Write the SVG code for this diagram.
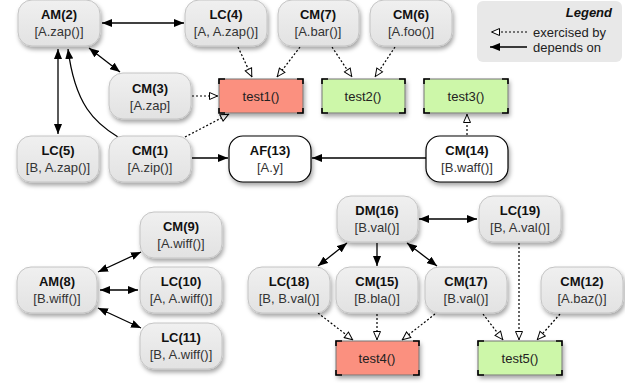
<svg xmlns="http://www.w3.org/2000/svg" width="625" height="383" viewBox="0 0 625 383">
<defs>
<filter id="sh" x="-20%" y="-20%" width="150%" height="160%">
<feDropShadow dx="1.5" dy="3" stdDeviation="2.2" flood-color="#000" flood-opacity="0.35"/>
</filter>
<linearGradient id="g" x1="0" y1="0" x2="0" y2="1">
<stop offset="0" stop-color="#f0f0f0"/>
<stop offset="1" stop-color="#e2e2e2"/>
</linearGradient>
<marker id="fa" viewBox="0 0 10 8" refX="10" refY="4" markerWidth="10" markerHeight="8" markerUnits="userSpaceOnUse" orient="auto-start-reverse">
<path d="M0,0 L10,4 L0,8 Z" fill="#000"/>
</marker>
<marker id="oa" viewBox="0 0 10 9" refX="9.5" refY="4.5" markerWidth="10" markerHeight="9" markerUnits="userSpaceOnUse" orient="auto">
<path d="M1,1 L9,4.5 L1,8 Z" fill="#fff" stroke="#000" stroke-width="1"/>
</marker>
</defs>
<style>
.n rect{fill:url(#g);stroke:#c4c4c4;stroke-width:1;filter:url(#sh)}
.w rect{fill:#fff;stroke:#000;stroke-width:1.2;filter:url(#sh)}
text{font-family:"Liberation Sans",Arial,sans-serif;font-size:13px;text-anchor:middle}
.b{font-weight:bold;fill:#111}
.s{fill:#333}
.t rect{stroke:#777;stroke-width:1;filter:url(#sh)}
.t path{fill:none;stroke:#000;stroke-width:1.6}
.red rect{fill:#fb907f}
.grn rect{fill:#cdf7a9}
.t text{fill:#222}
.dep{stroke:#000;stroke-width:1.3;fill:none;marker-end:url(#fa)}
.dbl{marker-start:url(#fa)}
.ex{stroke:#000;stroke-width:1.2;fill:none;stroke-dasharray:2,2;marker-end:url(#oa)}
</style>

<g id="legend">
<rect x="477" y="1" width="145" height="61" rx="6" fill="#e8e8e8"/>
<text x="612" y="17" style="font-weight:bold;font-style:italic;text-anchor:end;fill:#111">Legend</text>
<text x="533" y="37" style="text-anchor:start;fill:#222">exercised by</text>
<text x="533" y="52" style="text-anchor:start;fill:#222">depends on</text>
<line x1="527" y1="32" x2="491" y2="32" class="ex"/>
<line x1="527" y1="47" x2="490" y2="47" class="dep"/>
</g>

<g id="connectors">
<line class="dep dbl" x1="102" y1="23" x2="184" y2="23"/>
<line class="dep dbl" x1="89" y1="48" x2="120" y2="72"/>
<line class="dep dbl" x1="58" y1="49" x2="58" y2="134"/>
<path class="dep" d="M118,137 C95,123 75,105 68,49"/>
<line class="ex" x1="192" y1="96" x2="218" y2="96"/>
<line class="ex" x1="238" y1="47" x2="252" y2="77"/>
<line class="ex" x1="300" y1="47" x2="277" y2="77"/>
<line class="ex" x1="185" y1="137" x2="229" y2="114"/>
<line class="dep" x1="192" y1="158" x2="228" y2="158"/>
<line class="dep" x1="426" y1="158" x2="312" y2="158"/>
<line class="ex" x1="332" y1="47" x2="352" y2="77"/>
<line class="ex" x1="395" y1="47" x2="375" y2="77"/>
<line class="ex" x1="467" y1="135" x2="467" y2="114"/>
<line class="dep dbl" x1="98" y1="272" x2="141" y2="252"/>
<line class="dep dbl" x1="100" y1="290" x2="138" y2="290"/>
<line class="dep dbl" x1="98" y1="308" x2="141" y2="328"/>
<line class="dep dbl" x1="419" y1="219" x2="477" y2="219"/>
<line class="dep dbl" x1="347" y1="243" x2="318" y2="266"/>
<line class="dep" x1="377" y1="243" x2="377" y2="266"/>
<line class="dep dbl" x1="407" y1="243" x2="437" y2="266"/>
<line class="ex" x1="318" y1="313" x2="353" y2="340"/>
<line class="ex" x1="377" y1="314" x2="377" y2="340"/>
<line class="ex" x1="435" y1="314" x2="402" y2="340"/>
<line class="ex" x1="483" y1="314" x2="503" y2="340"/>
<line class="ex" x1="519" y1="243" x2="519" y2="340"/>
<line class="ex" x1="560" y1="314" x2="537" y2="340"/>
</g>

<g id="AM2" class="n"><rect x="18" y="0" width="82" height="46" rx="14"/><text class="b" x="59" y="19">AM(2)</text><text class="s" x="59" y="36">[A.zap()]</text></g>
<g id="LC4" class="n"><rect x="185" y="0" width="82" height="46" rx="14"/><text class="b" x="226" y="19">LC(4)</text><text class="s" x="226" y="36">[A, A.zap()]</text></g>
<g id="CM7" class="n"><rect x="278" y="0" width="81" height="46" rx="14"/><text class="b" x="318" y="19">CM(7)</text><text class="s" x="318" y="36">[A.bar()]</text></g>
<g id="CM6" class="n"><rect x="370" y="0" width="82" height="46" rx="14"/><text class="b" x="411" y="19">CM(6)</text><text class="s" x="411" y="36">[A.foo()]</text></g>
<g id="CM3" class="n"><rect x="109" y="73" width="82" height="46" rx="14"/><text class="b" x="150" y="93">CM(3)</text><text class="s" x="150" y="110">[A.zap]</text></g>
<g id="LC5" class="n"><rect x="17" y="136" width="82" height="46" rx="14"/><text class="b" x="58" y="155">LC(5)</text><text class="s" x="58" y="172">[B, A.zap()]</text></g>
<g id="CM1" class="n"><rect x="109" y="136" width="82" height="46" rx="14"/><text class="b" x="150" y="155">CM(1)</text><text class="s" x="150" y="172">[A.zip()]</text></g>
<g id="AF13" class="w"><rect x="229" y="136" width="82" height="46" rx="14"/><text class="b" x="270" y="155">AF(13)</text><text class="s" x="270" y="172">[A.y]</text></g>
<g id="CM14" class="w"><rect x="426" y="136" width="82" height="46" rx="14"/><text class="b" x="467" y="155">CM(14)</text><text class="s" x="467" y="172">[B.waff()]</text></g>

<g id="test1" class="t red"><rect x="219" y="79" width="84" height="34"/><path d="M219,84 V79 H225 M297,79 H303 V84 M303,108 V113 H297 M225,113 H219 V108"/><text x="261" y="101">test1()</text></g>
<g id="test2" class="t grn"><rect x="322" y="79" width="83" height="34"/><path d="M322,84 V79 H328 M399,79 H405 V84 M405,108 V113 H399 M328,113 H322 V108"/><text x="363" y="101">test2()</text></g>
<g id="test3" class="t grn"><rect x="424" y="79" width="84" height="34"/><path d="M424,84 V79 H430 M502,79 H508 V84 M508,108 V113 H502 M430,113 H424 V108"/><text x="466" y="101">test3()</text></g>

<g id="CM9" class="n"><rect x="140" y="212" width="82" height="46" rx="14"/><text class="b" x="181" y="231">CM(9)</text><text class="s" x="181" y="248">[A.wiff()]</text></g>
<g id="AM8" class="n"><rect x="17" y="267" width="80" height="46" rx="14"/><text class="b" x="57" y="286">AM(8)</text><text class="s" x="57" y="303">[B.wiff()]</text></g>
<g id="LC10" class="n"><rect x="140" y="267" width="82" height="46" rx="14"/><text class="b" x="181" y="286">LC(10)</text><text class="s" x="181" y="303">[A, A.wiff()]</text></g>
<g id="LC11" class="n"><rect x="140" y="323" width="82" height="46" rx="14"/><text class="b" x="181" y="342">LC(11)</text><text class="s" x="181" y="359">[B, A.wiff()]</text></g>
<g id="DM16" class="n"><rect x="337" y="196" width="81" height="46" rx="14"/><text class="b" x="377" y="215">DM(16)</text><text class="s" x="377" y="232">[B.val()]</text></g>
<g id="LC19" class="n"><rect x="479" y="196" width="82" height="46" rx="14"/><text class="b" x="520" y="215">LC(19)</text><text class="s" x="520" y="232">[B, A.val()]</text></g>
<g id="LC18" class="n"><rect x="248" y="267" width="82" height="46" rx="14"/><text class="b" x="289" y="286">LC(18)</text><text class="s" x="289" y="303">[B, B.val()]</text></g>
<g id="CM15" class="n"><rect x="336" y="267" width="82" height="46" rx="14"/><text class="b" x="377" y="286">CM(15)</text><text class="s" x="377" y="303">[B.bla()]</text></g>
<g id="CM17" class="n"><rect x="425" y="267" width="82" height="46" rx="14"/><text class="b" x="466" y="286">CM(17)</text><text class="s" x="466" y="303">[B.val()]</text></g>
<g id="CM12" class="n"><rect x="541" y="267" width="82" height="46" rx="14"/><text class="b" x="582" y="286">CM(12)</text><text class="s" x="582" y="303">[A.baz()]</text></g>

<g id="test4" class="t red"><rect x="336" y="341" width="83" height="34"/><path d="M336,346 V341 H342 M413,341 H419 V346 M419,370 V375 H413 M342,375 H336 V370"/><text x="377" y="363">test4()</text></g>
<g id="test5" class="t grn"><rect x="478" y="341" width="84" height="34"/><path d="M478,346 V341 H484 M556,341 H562 V346 M562,370 V375 H556 M484,375 H478 V370"/><text x="520" y="363">test5()</text></g>
</svg>
